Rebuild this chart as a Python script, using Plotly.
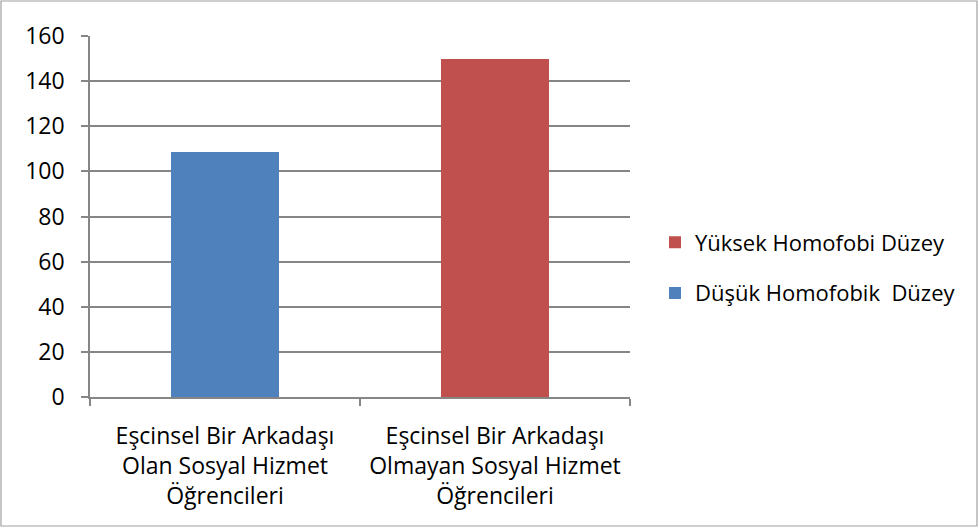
import plotly.graph_objects as go

categories = [
    "Eşcinsel Bir Arkadaşı<br>Olan Sosyal Hizmet<br>Öğrencileri",
    "Eşcinsel Bir Arkadaşı<br>Olmayan Sosyal Hizmet<br>Öğrencileri",
]
yuksek_values = [0, 150]
dusuk_values = [108.5, 0]
series_names = ["Yüksek Homofobi Düzey", "Düşük Homofobik  Düzey"]
colors = ["#C0504D", "#4F81BD"]
y_ticks = [0, 20, 40, 60, 80, 100, 120, 140, 160]

FONT = "Open Sans"
fig = go.Figure()
fig.add_trace(go.Bar(x=categories, y=yuksek_values, name=series_names[0],
                     marker=dict(color=colors[0], line=dict(width=0)),
                     width=0.4, legendgroup="a"))
fig.add_trace(go.Bar(x=categories, y=dusuk_values, name=series_names[1],
                     marker=dict(color=colors[1], line=dict(width=0)),
                     width=0.4, legendgroup="b"))

L, R, T, B = 90, 349, 36, 131
W, H = 979, 528
pw, ph = W - L - R, H - T - B

fig.update_layout(
    width=W, height=H,
    margin=dict(l=L, r=R, t=T, b=B),
    barmode="stack",
    plot_bgcolor="white", paper_bgcolor="white",
    font=dict(family=FONT, size=23, color="#000000"),
    showlegend=True,
    legend=dict(traceorder="grouped", tracegroupgap=19,
                x=(655 - L) / pw, xanchor="left",
                y=(397 - 268) / ph, yanchor="middle",
                font=dict(family=FONT, size=22, color="#000000"),
                itemwidth=30),
    xaxis=dict(showline=True, linecolor="#868686", linewidth=1.5,
               ticks="outside", tickson="boundaries", ticklen=7,
               tickcolor="#868686", tickwidth=1.5, ticklabelstandoff=18,
               showgrid=False, tickfont=dict(size=23)),
    yaxis=dict(range=[0, 160], tickvals=y_ticks, showline=True,
               linecolor="#868686", linewidth=1.5,
               ticks="outside", ticklen=7, tickcolor="#868686", tickwidth=1.5,
               ticklabelstandoff=12,
               showgrid=True, gridcolor="#868686", gridwidth=1.5,
               zeroline=False, tickfont=dict(size=23)),
    shapes=[dict(type="rect", xref="paper", yref="paper",
                 x0=(1 - L) / pw, x1=(W - 2 - L) / pw,
                 y0=(397 - (H - 2)) / ph, y1=(397 - 1) / ph,
                 line=dict(color="#A0A0A0", width=1.2), layer="below")],
)
fig.write_html("out.html", config={"displayModeBar": False},
               post_script="document.body.style.margin='0';")
